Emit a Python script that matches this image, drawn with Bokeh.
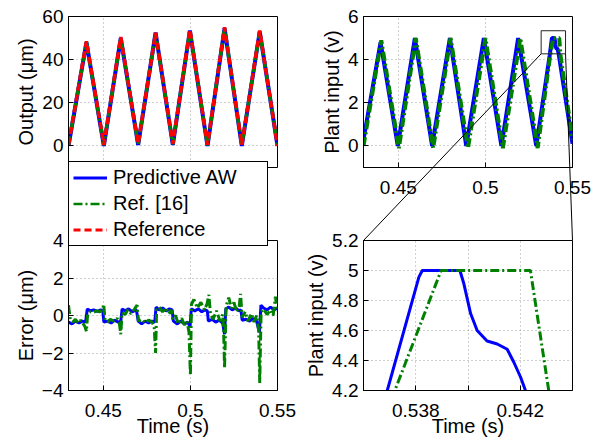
import math
from bokeh.plotting import figure
from bokeh.layouts import row, column
from bokeh.models import Legend, LegendItem, FixedTicker, Range1d
from bokeh.embed import file_html
from bokeh.resources import INLINE

FONT = "Liberation Sans"
BLUE = "#0000ff"
GREEN = "#008000"
RED = "#ff0000"
GRID = "#a0a0a0"

# ---------------- data ----------------
# Output (um), top-left panel
out_t = [0.4300, 0.4403, 0.4503, 0.4600, 0.4700, 0.4800, 0.4899, 0.4997, 0.5098, 0.5196, 0.5295, 0.5398, 0.5500]
out_aw = [0.0, 48.0, 0.0, 50.0, 0.5, 52.5, 0.5, 53.5, 0.0, 54.5, 0.0, 53.0, 0.0]
out_r16 = [0.3, 48.0, 0.3, 50.0, 0.8, 52.0, 0.8, 53.5, 0.3, 54.5, 0.3, 53.0, 0.3]
out_ref = [0.5, 48.5, 0.5, 50.5, 1.0, 52.5, 1.0, 54.0, 0.5, 55.0, 0.5, 53.5, 0.0]

# Plant input (v), predictive AW
pin_aw_t = [0.4300, 0.4398, 0.4497, 0.4595, 0.4694, 0.4796, 0.4890, 0.4991, 0.5092, 0.5188, 0.5292,
            0.53691, 0.53812, 0.53825, 0.53969, 0.53984, 0.54010, 0.54035, 0.54073, 0.54112,
            0.54150, 0.54175, 0.54201, 0.54220, 0.5500]
pin_aw = [0.3, 4.8, 0.0, 5.0, 0.0, 5.0, 0.0, 5.0, 0.0, 5.0, 0.0,
          4.2, 4.956, 5.0, 5.0, 4.913, 4.713, 4.60, 4.53, 4.51,
          4.475, 4.39, 4.29, 4.2, 0.1]
# Plant input (v), Ref. [16]
pin_r16_t = [0.4300, 0.4402, 0.4503, 0.4600, 0.4700, 0.4800, 0.4900, 0.5000, 0.5100, 0.5200, 0.5300,
             0.53720, 0.53897, 0.54239, 0.54309, 0.5500]
pin_r16 = [0.0, 4.9, -0.1, 5.0, -0.1, 5.0, -0.1, 5.0, -0.1, 5.0, -0.1,
           4.2, 5.0, 5.0, 4.2, 0.3]

# Tracking error (um)
err_aw_t = [0.4300, 0.4320, 0.4340, 0.4360, 0.4380, 0.4398, 0.4408, 0.4425, 0.4445, 0.4465, 0.4485, 0.4497,
            0.4503, 0.4525, 0.4545, 0.4565, 0.4585, 0.4600, 0.4608, 0.4625, 0.4645, 0.4665, 0.4690,
            0.4700, 0.4720, 0.4740, 0.4760, 0.4780, 0.4795, 0.4803, 0.4820, 0.4840, 0.4860, 0.4880, 0.4895,
            0.4902, 0.4925, 0.4945, 0.4965, 0.4985, 0.4998, 0.5005, 0.5025, 0.5045, 0.5065, 0.5085, 0.5097,
            0.5103, 0.5125, 0.5145, 0.5165, 0.5185, 0.5196, 0.5203, 0.5220, 0.5240, 0.5260, 0.5280, 0.5290,
            0.5297, 0.5320, 0.5340, 0.5360, 0.5380, 0.5396, 0.5405, 0.5420, 0.5440, 0.5460, 0.5480, 0.5500]
err_aw = [-0.35, -0.45, -0.30, -0.40, -0.30, -0.35, 0.35, 0.25, 0.30, 0.22, 0.30, 0.25,
          -0.35, -0.30, -0.40, -0.25, -0.35, -0.30, 0.35, 0.25, 0.35, 0.20, 0.30,
          -0.30, -0.45, -0.30, -0.40, -0.30, -0.35, 0.45, 0.30, 0.40, 0.25, 0.35, 0.30,
          -0.30, -0.45, -0.30, -0.45, -0.35, -0.60, 0.35, 0.25, 0.35, 0.20, 0.30, 0.25,
          -0.30, -0.20, -0.35, -0.25, -0.40, -1.00, 0.35, 0.45, 0.30, 0.40, 0.25, 0.30,
          -0.25, -0.20, -0.30, -0.15, -0.30, -0.90, 0.55, 0.40, 0.30, 0.45, 0.30, 0.40]
err_r16_t = [0.4300, 0.4310, 0.4325, 0.4340, 0.4355, 0.4370, 0.4385, 0.4395, 0.4403, 0.4410, 0.4425,
             0.4440, 0.4460, 0.4480, 0.4495, 0.4502, 0.4510, 0.4525, 0.4540, 0.4560, 0.4580, 0.4592,
             0.4600, 0.4608, 0.4625, 0.4640, 0.4660, 0.4680, 0.4694, 0.4702, 0.4720, 0.4740, 0.4760,
             0.4780, 0.4792, 0.4800, 0.4806, 0.4820, 0.4840, 0.4860, 0.4875, 0.4890, 0.4898, 0.4915,
             0.4930, 0.4950, 0.4965, 0.4980, 0.4992, 0.5000, 0.5006, 0.5020, 0.5040, 0.5060, 0.5080,
             0.5095, 0.5106, 0.5115, 0.5130, 0.5150, 0.5170, 0.5185, 0.5190, 0.5196, 0.5205, 0.5220,
             0.5235, 0.5250, 0.5265, 0.5280, 0.5288, 0.5297, 0.5315, 0.5330, 0.5350, 0.5365, 0.5380,
             0.5392, 0.5398, 0.5406, 0.5420, 0.5440, 0.5460, 0.5475, 0.5488, 0.5500]
err_r16 = [0.55, -0.20, -0.35, -0.20, -0.40, -0.25, -0.45, -0.60, -0.85, 0.10, 0.20,
           0.15, 0.25, 0.20, 0.30, 0.60, -0.25, -0.35, -0.20, -0.30, -0.15, -0.40,
           -1.00, 0.15, 0.05, 0.30, 0.10, 0.35, 0.55, -0.30, -0.20, -0.40, -0.25,
           -0.35, -0.60, -2.00, 0.30, 0.45, 0.20, 0.40, 0.10, 0.30, -0.20, 0.00,
           -0.45, -0.15, -0.50, -0.30, -0.90, -3.20, 0.60, 0.85, 0.40, 0.70, 0.30,
           0.60, 1.10, 0.10, -0.20, 0.25, -0.30, 0.05, -0.60, -2.80, 0.50, 0.95,
           0.40, 0.70, 0.20, 0.50, 1.15, -0.10, 0.20, -0.30, 0.10, -0.35, 0.00,
           -0.80, -3.60, 0.20, 0.35, 0.05, 0.30, 0.00, 1.00, 0.20]

# axis ranges / ticks
t_range = (0.43, 0.55)
t_ticks = [0.45, 0.5, 0.55]
t_labels = ["0.45", "0.5", "0.55"]
zoom_t_range = (0.536, 0.544)
zoom_t_ticks = [0.538, 0.540, 0.542]
zoom_t_labels = ["0.538", "", "0.542"]
out_range = (-10, 60)
out_ticks = [0, 20, 40, 60]
pin_range = (-1, 6)
pin_ticks = [0, 2, 4, 6]
err_range = (-4, 4)
err_ticks = [-4, -2, 0, 2, 4]
err_labels = ["\u22124", "\u22122", "0", "2", "4"]
zoom_pin_range = (4.2, 5.2)
zoom_pin_ticks = [4.2, 4.4, 4.6, 4.8, 5.0, 5.2]
zoom_pin_labels = ["4.2", "4.4", "4.6", "4.8", "5", "5.2"]
legend_labels = ["Predictive AW", "Ref. [16]", "Reference"]
# zoom box drawn in the plant-input panel
box = dict(left=0.532, right=0.546, bottom=4.27, top=5.34)

# ---------------- layout geometry (page px) ----------------
PAGE_W, PAGE_H = 603, 441
FR_W = 209
TOP_Y0, TOP_Y1 = 16, 167
BOT_Y0, BOT_Y1 = 240, 390
LX0, RX0 = 68, 363
COL_SPLIT = 300
LEG_X, LEG_BOTTOM = 68, 246


def make(width, height, xr, yr, bl, br, bt, bb):
    p = figure(width=width, height=height, x_range=xr, y_range=yr,
               min_border_left=bl, min_border_right=br, min_border_top=bt, min_border_bottom=bb,
               toolbar_location=None, output_backend="svg")
    p.outline_line_color = "black"
    p.outline_line_alpha = 1
    p.outline_line_width = 1
    p.background_fill_color = "white"
    return p


def style(p, xt, xl, yt, yl, ylab, xlab=None, show_x=True):
    for ax in (p.xaxis[0], p.yaxis[0]):
        ax.axis_line_color = "black"
        ax.major_tick_in = 5
        ax.major_tick_out = 0
        ax.major_tick_line_color = "black"
        ax.minor_tick_line_color = None
        ax.major_label_text_font = FONT
        ax.major_label_text_font_size = "19px"
        ax.major_label_text_color = "black"
        ax.axis_label_text_font = FONT
        ax.axis_label_text_font_size = "20px"
        ax.axis_label_text_font_style = "normal"
        ax.axis_label_text_color = "black"
    p.xaxis[0].ticker = FixedTicker(ticks=xt)
    p.xaxis[0].major_label_overrides = {k: v for k, v in zip(xt, xl)}
    p.yaxis[0].ticker = FixedTicker(ticks=yt)
    p.yaxis[0].major_label_overrides = {k: v for k, v in zip(yt, yl)}
    p.xaxis[0].major_label_standoff = 13
    p.yaxis[0].major_label_standoff = 5
    p.yaxis[0].axis_label_standoff = 2
    p.xaxis[0].axis_label_standoff = -5
    p.yaxis[0].axis_label = ylab
    if xlab:
        p.xaxis[0].axis_label = xlab
    if not show_x:
        p.xaxis[0].visible = False
    p.xgrid.ticker = FixedTicker(ticks=xt)
    p.ygrid.ticker = FixedTicker(ticks=yt)
    for g in (p.xgrid[0], p.ygrid[0]):
        g.grid_line_color = GRID
        g.grid_line_dash = "1 3"
        g.grid_line_width = 1


# ---------------- top-left: output ----------------
TL_H = TOP_Y1 + 1
p_tl = make(COL_SPLIT, TL_H, t_range, out_range, LX0, COL_SPLIT - LX0 - FR_W, TOP_Y0, 1)
style(p_tl, t_ticks, t_labels, out_ticks, [str(v) for v in out_ticks], "Output (\u03bcm)", show_x=False)
p_tl.line(out_t, out_aw, line_color=BLUE, line_width=4)
p_tl.line(out_t, out_r16, line_color=GREEN, line_width=3.5, line_dash="9 3 2 3")
p_tl.line(out_t, out_ref, line_color=RED, line_width=3.5, line_dash="7 4")

# ---------------- top-right: plant input ----------------
TR_H = 200
p_tr = make(PAGE_W - COL_SPLIT, TR_H, t_range, pin_range, RX0 - COL_SPLIT, PAGE_W - RX0 - FR_W,
            TOP_Y0, TR_H - TOP_Y1)
style(p_tr, t_ticks, t_labels, pin_ticks, [str(v) for v in pin_ticks], "Plant input (v)")
p_tr.line(pin_aw_t, pin_aw, line_color=BLUE, line_width=4)
p_tr.line(pin_r16_t, pin_r16, line_color=GREEN, line_width=4, line_dash="9 3 2 3")
p_tr.quad(left=[box["left"]], right=[box["right"]], bottom=[box["bottom"]], top=[box["top"]],
          fill_color=None, line_color="#222222", line_width=1)

# ---------------- bottom-left: error ----------------
p_bl = make(COL_SPLIT, PAGE_H - TL_H, t_range, err_range, LX0, COL_SPLIT - LX0 - FR_W,
            BOT_Y0 - TL_H, PAGE_H - BOT_Y1)
style(p_bl, t_ticks, t_labels, err_ticks, err_labels, "Error (\u03bcm)", "Time (s)")
p_bl.line(err_aw_t, err_aw, line_color=BLUE, line_width=3)
p_bl.line(err_r16_t, err_r16, line_color=GREEN, line_width=3, line_dash="9 3 2 3")

# ---------------- bottom-right: zoomed plant input ----------------
p_br = make(PAGE_W - COL_SPLIT, PAGE_H - TR_H, zoom_t_range, zoom_pin_range, RX0 - COL_SPLIT,
            PAGE_W - RX0 - FR_W, BOT_Y0 - TR_H, PAGE_H - BOT_Y1)
style(p_br, zoom_t_ticks, zoom_t_labels, zoom_pin_ticks, zoom_pin_labels, "Plant input (v)", "Time (s)")
p_br.line(pin_aw_t, pin_aw, line_color=BLUE, line_width=3)
p_br.line(pin_r16_t, pin_r16, line_color=GREEN, line_width=3, line_dash="9 3 2 3")


# ---------------- transparent overlay: legend + connector lines ----------------
def tr_to_px(x, y):
    return (RX0 + (x - t_range[0]) / (t_range[1] - t_range[0]) * FR_W,
            TOP_Y0 + (pin_range[1] - y) / (pin_range[1] - pin_range[0]) * (TOP_Y1 - TOP_Y0))


def br_to_px(x, y):
    return (RX0 + (x - zoom_t_range[0]) / (zoom_t_range[1] - zoom_t_range[0]) * FR_W,
            BOT_Y0 + (zoom_pin_range[1] - y) / (zoom_pin_range[1] - zoom_pin_range[0]) * (BOT_Y1 - BOT_Y0))


p_ov = figure(width=PAGE_W, height=PAGE_H, x_range=Range1d(0, PAGE_W), y_range=Range1d(PAGE_H, 0),
              min_border=0, x_axis_location=None, y_axis_location=None,
              toolbar_location=None, output_backend="svg")
p_ov.background_fill_color = None
p_ov.border_fill_color = None
p_ov.outline_line_color = None
p_ov.grid.visible = False
p_ov.margin = (-PAGE_H, 0, 0, 0)

c0 = tr_to_px(box["left"], box["bottom"])
c1 = tr_to_px(box["right"], box["bottom"])
z0 = br_to_px(zoom_t_range[0], zoom_pin_range[1])
z1 = br_to_px(zoom_t_range[1], zoom_pin_range[1])
p_ov.segment(x0=[c0[0], c1[0]], y0=[c0[1], c1[1]], x1=[z0[0], z1[0]], y1=[z0[1], z1[1]],
             line_color="black", line_width=1)

# legend-only renderers (a single NaN point: nothing is drawn in the plot area)
NAN = [math.nan]
r_aw = p_ov.line(x=NAN, y=NAN, line_color=BLUE, line_width=3)
r_r16 = p_ov.line(x=NAN, y=NAN, line_color=GREEN, line_width=2.5, line_dash="9 3 2 3")
r_ref = p_ov.line(x=NAN, y=NAN, line_color=RED, line_width=3, line_dash="7 4")
legend = Legend(items=[LegendItem(label=legend_labels[0], renderers=[r_aw]),
                       LegendItem(label=legend_labels[1], renderers=[r_r16]),
                       LegendItem(label=legend_labels[2], renderers=[r_ref])],
                location=(LEG_X, PAGE_H - LEG_BOTTOM), margin=0, padding=4, spacing=3,
                glyph_width=34, glyph_height=23, label_height=23, label_standoff=6, label_width=150,
                label_text_font=FONT, label_text_font_size="20px", label_text_color="black",
                border_line_color="black", border_line_width=1, border_line_alpha=1,
                background_fill_color="white", background_fill_alpha=1)
p_ov.add_layout(legend)

layout = column(row(column(p_tl, p_bl), column(p_tr, p_br)), p_ov)

open("out.html", "w").write(file_html(layout, INLINE))
